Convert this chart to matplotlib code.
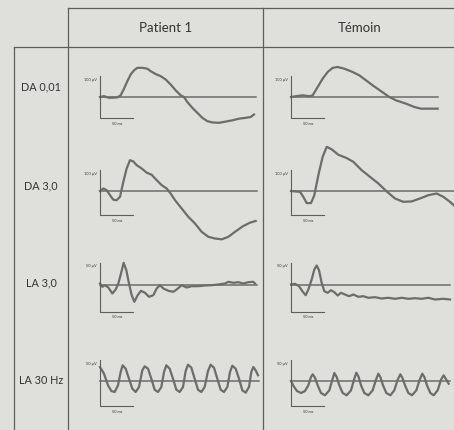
import matplotlib.pyplot as plt

# ERG traces: time in ms, amplitude in uV (relative to baseline)
columns = ["Patient 1", "Témoin"]
rows = ["DA 0,01", "DA 3,0", "LA 3,0", "LA 30 Hz"]
amp_labels = ["100 µV", "100 µV", "50 µV", "50 µV"]
time_label = "50 ms"

p1_da001_t = [0, 6, 13.5, 26, 31, 36, 41, 46, 51, 56, 63.5, 71, 76, 83.5, 91, 98.5, 106, 113.5, 121, 126,
              131, 138.5, 146, 153.5, 161, 168.5, 178.5, 188.5, 198.5, 208.5, 218.5, 226, 231]
p1_da001_v = [0, 2, -2, -1, 4, 20, 38, 54, 64, 70, 70, 68, 62, 55, 50, 42, 30, 16, 4, 0,
              -12, -26, -38, -50, -58, -61, -62, -59, -56, -52, -50, -48, -42]

t_da001_t = [0, 7.5, 17.5, 27.5, 32.5, 40, 47.5, 55, 62.5, 70, 80, 92.5, 102.5, 112.5, 122.5, 135,
             147.5, 157.5, 172.5, 185, 195, 207.5, 220]
t_da001_v = [0, 2, 4, 2, 4, 24, 44, 60, 70, 72, 68, 60, 52, 40, 28, 14,
             0, -8, -16, -24, -28, -28, -28]

p1_da3_t = [0, 5, 10, 15, 20, 25, 30, 35, 40, 45, 50, 55, 62.5, 70, 77.5, 85, 92.5, 100, 105,
            112.5, 122.5, 132.5, 142.5, 152.5, 162.5, 172.5, 182.5, 192.5, 202.5, 215, 225, 233.5]
p1_da3_v = [0, 6, 2, -10, -21, -22, -14, 22, 54, 74, 71, 62, 54, 44, 39, 26, 14, 6, -4,
            -22, -42, -62, -78, -98, -110, -114, -116, -110, -98, -84, -76, -72]

t_da3_t = [0, 6, 13.5, 18.5, 23.5, 30, 35, 41, 47.5, 53.5, 61, 71, 83.5, 93.5, 106, 118.5, 131,
           143.5, 156, 168.5, 181, 193.5, 206, 218.5, 228.5, 238.5, 244]
t_da3_v = [0, -1, -2, -14, -29, -29, -10, 38, 82, 106, 100, 87, 79, 70, 50, 34, 18,
           -1, -18, -26, -25, -18, -10, -6, -14, -26, -34]

p1_la3_t = [0, 3.5, 7.5, 12.5, 18.5, 23.5, 27.5, 31.5, 35.5, 39.5, 43.5, 47.5, 51.5, 56.5, 61.5,
            67.5, 73.5, 80, 85, 90, 95, 102.5, 110, 115, 122.5, 130, 137.5, 147.5, 157.5, 167.5,
            177.5, 187.5, 192.5, 200, 207.5, 215, 222.5, 230, 232.5]
p1_la3_v = [1, -2.3, -0.7, -3, -9, -5, 1, 11, 21.7, 14.3, 1, -10.7, -17.3, -10.7, -6.3,
            -8.3, -12.3, -10.7, -4, -0.7, -4, -6.3, -7.3, -5, -0.7, -3, -1.7, -1.7, -1, -0.7,
            0, 1, 2.7, 1.7, 2.3, 1, 2.3, 2.7, 1]

t_la3_t = [0, 6, 12, 17, 22, 26, 31, 35, 38.5, 42, 46, 50, 55, 60, 65, 70, 75, 81, 87, 93.5, 101,
           108.5, 116, 126, 136, 146, 156, 166, 176, 186, 196, 206, 216, 228.5, 238.5]
t_la3_v = [0, 0.7, -1.7, -6.7, -10.7, -5, 5, 15, 19, 14.3, 1.7, -6.7, -8.3, -5.7, -7.7, -11, -8.3,
           -10, -11.7, -10, -12.3, -11.7, -13.3, -12.7, -14, -13.3, -14.3, -13.3, -14.3, -13.7,
           -14.3, -13.3, -15, -14.3, -15]

p1_la30_t = [0, 6, 12, 17, 22, 27, 31, 34, 38.5, 43.5, 48.5, 53.5, 58.5, 63.5, 67, 72, 77, 82, 87,
             92, 96, 99.5, 104.5, 109.5, 114.5, 119.5, 124.5, 128.5, 132, 137, 142, 147, 152, 157,
             162, 166, 171, 176, 181, 186, 191, 195, 198.5, 203.5, 208.5, 213.5, 218.5, 223.5,
             227, 230, 233.5, 237]
p1_la30_v = [14, 7.3, -4.3, -10, -11, -4.3, 9, 15.7, 12.3, 2.3, -7.7, -11, -6, 10.7, 14.7, 12.3,
             2.3, -8.7, -11, -6, 9, 15.7, 12.3, 2.3, -8.7, -11, -6, 10, 16.3, 13.3, 2.3, -8.7,
             -11, -6, 10, 16.3, 13.3, 2.3, -8.7, -11, -6, 9, 15.3, 12.3, 2.3, -9.3, -11.7, -6,
             9, 14, 10.7, 5.7]

t_la30_t = [0, 4, 9, 15, 21, 26, 30, 32.5, 36, 40, 45, 51, 57.5, 62.5, 65, 68.5, 72.5, 77.5, 83.5,
            90, 95, 98, 101.5, 105, 110, 116, 122.5, 127.5, 131, 134, 138, 143, 149, 155, 160,
            164, 167, 171, 176, 181.5, 188, 193, 197, 200, 204, 209, 214, 220, 225, 229, 233,
            236.5]
t_la30_v = [0, -5.3, -10, -12, -10, -4.3, 4, 6.7, 3.3, -4.3, -12, -14.3, -9.3, 2.3, 8, 4, -4.3,
            -12, -14.3, -9.3, 2.3, 8.3, 4, -4.3, -12, -14.3, -9.3, 1.3, 7.3, 4, -4.3, -12, -14.3,
            -9.3, 1.3, 6.7, 3.3, -4.3, -12, -14.3, -9.3, 1.3, 7.3, 4, -4.3, -12, -14.3, -9.3,
            1.3, 5.7, 1.3, -2.7]

traces = [
    [(p1_da001_t, p1_da001_v), (t_da001_t, t_da001_v)],
    [(p1_da3_t, p1_da3_v), (t_da3_t, t_da3_v)],
    [(p1_la3_t, p1_la3_v), (t_la3_t, t_la3_v)],
    [(p1_la30_t, p1_la30_v), (t_la30_t, t_la30_v)],
]
baseline_end = [[233.5, 220], [235, 250], [236, 238.5], [238.5, 239]]
bar_range = [(50, -50), (50, -58), (22, -27), (21, -25)]   # uV, top and bottom of the amplitude bar

W, H = 454, 430
MS_PER_PX = 1.5
uv_per_px = [2.4, 2.4, 1.0, 1.0]
col_x0 = [100, 291]              # pixel x of trace start
row_y0 = [97, 191, 284.5, 381]   # pixel y of baseline
row_label_y = [87, 186, 283, 380]

bg = "#dfdfdb"
line_col = "#5e5e5c"
trace_col = "#6c6c6a"
text_col = "#333333"

plt.rcParams["font.family"] = ["Lato", "DejaVu Sans"]

fig = plt.figure(figsize=(W / 100, H / 100), dpi=100)
fig.patch.set_facecolor(bg)

# table grid in pixel coordinates
grid = fig.add_axes([0, 0, 1, 1])
grid.set_xlim(0, W)
grid.set_ylim(H, 0)
grid.axis("off")
grid.plot([68, W], [7.5, 7.5], color=line_col, lw=0.9)
grid.plot([14, W], [47, 47], color=line_col, lw=0.9)
grid.plot([68, 68], [7.5, H], color=line_col, lw=0.9)
grid.plot([263, 263], [7.5, H], color=line_col, lw=0.9)
grid.plot([14, 14], [47, H], color=line_col, lw=0.9)

for j, name in enumerate(columns):
    grid.text([165.5, 360][j], 28.5, name, ha="center", va="center", fontsize=9.5, color=text_col)
for i, name in enumerate(rows):
    grid.text(41, row_label_y[i], name, ha="center", va="center", fontsize=7.8, color=text_col)

for i in range(len(rows)):
    g = uv_per_px[i]
    for j in range(len(columns)):
        x0, y0 = col_x0[j], row_y0[i]
        left, right, top, bottom = x0 - 35, x0 + 170, y0 - 45, y0 + 45
        ax = fig.add_axes([left / W, 1 - bottom / H, (right - left) / W, (bottom - top) / H])
        ax.set_xlim(-35 * MS_PER_PX, 170 * MS_PER_PX)
        ax.set_ylim(-45 * g, 45 * g)
        ax.axis("off")
        ax.patch.set_alpha(0)

        t, v = traces[i][j]
        ax.plot([0, baseline_end[i][j]], [0, 0], color=trace_col, lw=1.1, clip_on=False)
        ax.plot(t, v, color=trace_col, lw=1.6, clip_on=False, solid_joinstyle="round")

        top_v, bot_v = bar_range[i]
        ax.plot([0, 0, 50], [top_v, bot_v, bot_v], color=line_col, lw=0.8)
        ax.text(-3 * MS_PER_PX, top_v - 4 * g, amp_labels[i], ha="right", va="center",
                fontsize=2.8, color=text_col)
        ax.text(25, bot_v - 6 * g, time_label, ha="center", va="center",
                fontsize=2.8, color=text_col)

fig.savefig("out.png", dpi=100, facecolor=bg)
